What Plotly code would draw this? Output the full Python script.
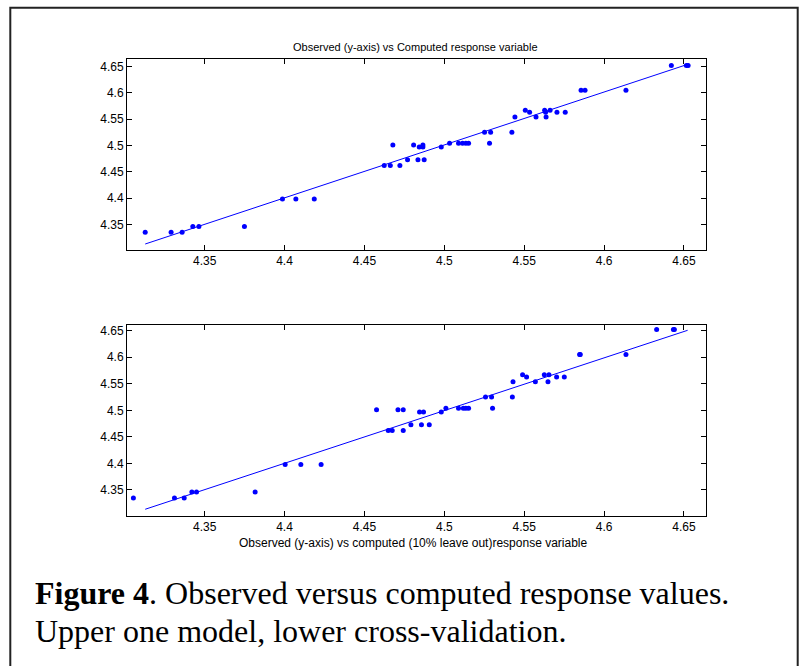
import plotly.graph_objects as go

# Upper panel: computed response (x) vs observed response (y), full model
model_computed = [4.3128, 4.3290, 4.3359, 4.3426, 4.3464, 4.3749,
                  4.3987, 4.4071, 4.4186, 4.4624, 4.4662, 4.4722,
                  4.4770, 4.4835, 4.4874, 4.4843, 4.4866, 4.4981,
                  4.4678, 4.4808, 4.4866, 4.5033, 4.5089, 4.5114,
                  4.5135, 4.5152, 4.5283, 4.5252, 4.5290, 4.5423,
                  4.5442, 4.5574, 4.5637, 4.5534, 4.5634, 4.5705,
                  4.5757, 4.5507, 4.5628, 4.5662, 4.5856, 4.5881,
                  4.6137, 4.6421, 4.6515, 4.6526]
model_observed = [4.335, 4.335, 4.335, 4.346, 4.346, 4.346,
                  4.398, 4.398, 4.398, 4.462, 4.462, 4.462,
                  4.473, 4.473, 4.473, 4.497, 4.497, 4.497,
                  4.501, 4.501, 4.501, 4.504, 4.504, 4.504,
                  4.504, 4.504, 4.504, 4.525, 4.525, 4.525,
                  4.554, 4.554, 4.554, 4.563, 4.563, 4.563,
                  4.563, 4.567, 4.567, 4.567, 4.605, 4.605,
                  4.605, 4.652, 4.652, 4.652]
model_fit_x = [4.3128, 4.6526]
model_fit_y = [4.3125, 4.6546]

# Lower panel: cross-validated (10% leave out) response vs observed
cv_computed = [4.3054, 4.3311, 4.3372, 4.3420, 4.3449, 4.3816,
               4.4004, 4.4102, 4.4229, 4.4649, 4.4674, 4.4743,
               4.4791, 4.4857, 4.4906, 4.4845, 4.4870, 4.4981,
               4.4576, 4.4710, 4.4743, 4.5010, 4.5089, 4.5119,
               4.5135, 4.5152, 4.5302, 4.5258, 4.5296, 4.5426,
               4.5430, 4.5570, 4.5649, 4.5515, 4.5703, 4.5751,
               4.5490, 4.5626, 4.5655, 4.5847, 4.5851, 4.6137,
               4.6329, 4.6434, 4.6440]
cv_observed = [4.335, 4.335, 4.335, 4.346, 4.346, 4.346,
               4.398, 4.398, 4.398, 4.462, 4.462, 4.462,
               4.473, 4.473, 4.473, 4.497, 4.497, 4.497,
               4.501, 4.501, 4.501, 4.504, 4.504, 4.504,
               4.504, 4.504, 4.504, 4.525, 4.525, 4.525,
               4.554, 4.554, 4.554, 4.563, 4.563, 4.563,
               4.567, 4.567, 4.567, 4.605, 4.605, 4.605,
               4.652, 4.652, 4.652]
cv_fit_x = [4.3128, 4.6523]
cv_fit_y = [4.3137, 4.6507]

tick_vals = [4.35, 4.40, 4.45, 4.50, 4.55, 4.60, 4.65]
tick_text = ["4.35", "4.4", "4.45", "4.5", "4.55", "4.6", "4.65"]

W, H = 803, 666
BLUE = "#0000ff"
AX_FONT = dict(family="Arial, Liberation Sans, sans-serif", size=12, color="black")


def px_x(p):
    return p / W


def px_y(p):
    return 1 - p / H


fig = go.Figure()

for xs, ys, fx, fy, xa, ya in [
    (model_computed, model_observed, model_fit_x, model_fit_y, "x", "y"),
    (cv_computed, cv_observed, cv_fit_x, cv_fit_y, "x2", "y2"),
]:
    fig.add_trace(go.Scatter(x=fx, y=fy, mode="lines", xaxis=xa, yaxis=ya,
                             line=dict(color=BLUE, width=1), showlegend=False,
                             hoverinfo="skip"))
    fig.add_trace(go.Scatter(x=xs, y=ys, mode="markers", xaxis=xa, yaxis=ya,
                             marker=dict(color=BLUE, size=5, line=dict(width=0)),
                             showlegend=False))

axis_common = dict(
    showgrid=False, zeroline=False, showline=True, mirror="ticks",
    linecolor="black", linewidth=1, ticks="inside", ticklen=5,
    tickwidth=1, tickcolor="black", tickvals=tick_vals, ticktext=tick_text,
    tickfont=AX_FONT,
)

xdom = [px_x(127), px_x(706)]
fig.update_layout(
    width=W, height=H,
    margin=dict(l=0, r=0, t=0, b=0),
    paper_bgcolor="white", plot_bgcolor="white",
    xaxis=dict(domain=xdom, range=[4.3014, 4.6638], anchor="y", **axis_common),
    yaxis=dict(domain=[px_y(250), px_y(59)], range=[4.3011, 4.6645],
               anchor="x", **axis_common),
    xaxis2=dict(domain=xdom, range=[4.3014, 4.6638], anchor="y2", **axis_common),
    yaxis2=dict(domain=[px_y(516), px_y(325)], range=[4.3010, 4.6607],
                anchor="x2", **axis_common),
)

annotations = [
    dict(text="Observed (y-axis) vs Computed response variable",
         x=px_x(416), y=px_y(47), xanchor="center", yanchor="middle",
         font=dict(family="Arial, Liberation Sans, sans-serif", size=11, color="black")),
    dict(text="Observed (y-axis) vs computed (10% leave out)response variable",
         x=px_x(413), y=px_y(543), xanchor="center", yanchor="middle",
         font=dict(family="Arial, Liberation Sans, sans-serif", size=12, color="black")),
    dict(text="<b>Figure 4</b>. Observed versus computed response values.",
         x=px_x(33), y=px_y(593), xanchor="left", yanchor="middle",
         font=dict(family="Times New Roman, Liberation Serif, serif", size=32, color="black")),
    dict(text="Upper one model, lower cross-validation.",
         x=px_x(33), y=px_y(631), xanchor="left", yanchor="middle",
         font=dict(family="Times New Roman, Liberation Serif, serif", size=32, color="black")),
]
for a in annotations:
    a.update(xref="paper", yref="paper", showarrow=False)
fig.update_layout(annotations=annotations)

# Caption frame around the whole figure
fig.add_shape(type="rect", xref="paper", yref="paper",
              x0=px_x(10.3), x1=px_x(797.7), y0=px_y(680), y1=px_y(7.7),
              line=dict(color="#222222", width=2), fillcolor="rgba(0,0,0,0)",
              layer="above")

fig.write_html("out.html")
